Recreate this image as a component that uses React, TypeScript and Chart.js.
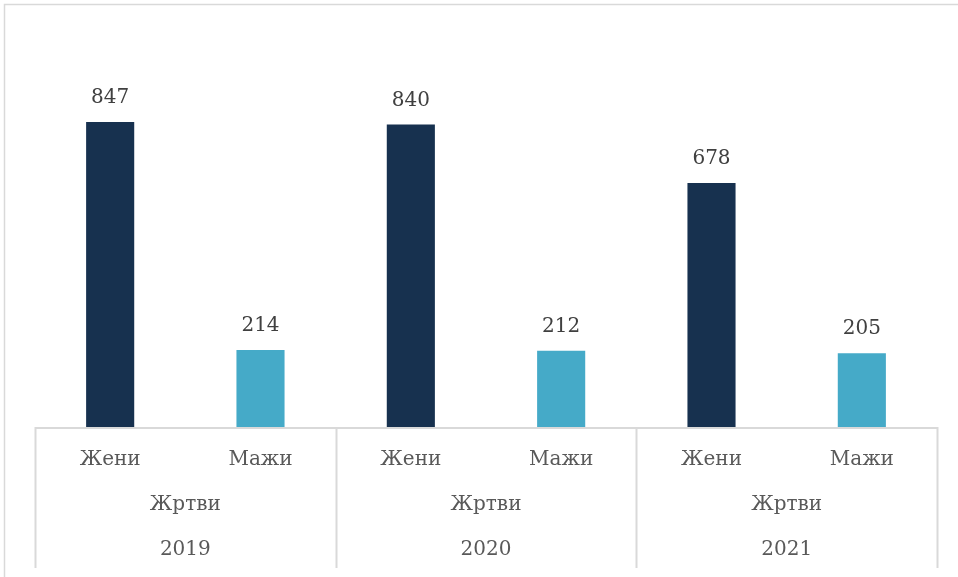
import React, { useEffect, useRef } from "react";
import { Chart, registerables } from "chart.js";

Chart.register(...registerables);

const categories = ["Жени", "Мажи", "Жени", "Мажи", "Жени", "Мажи"];
const groupLabel = "Жртви";
const years = ["2019", "2020", "2021"];
const values = [847, 214, 840, 212, 678, 205];
const barColors = ["#17314f", "#45aac8", "#17314f", "#45aac8", "#17314f", "#45aac8"];

const FONT = "'DejaVu Serif', serif";

const overlay = {
  id: "overlay",
  afterDraw(chart: any) {
    const { ctx, chartArea } = chart;
    const x = chart.scales.x;
    const meta = chart.getDatasetMeta(0);
    const left = chartArea.left;
    const right = chartArea.right;
    const bottom = chartArea.bottom;
    ctx.save();
    // outer frame
    ctx.strokeStyle = "#d9d9d9";
    ctx.lineWidth = 1.5;
    ctx.beginPath();
    ctx.moveTo(4.5, chart.height + 2);
    ctx.lineTo(4.5, 4.5);
    ctx.lineTo(chart.width + 2, 4.5);
    ctx.stroke();
    // axis line
    ctx.lineWidth = 2;
    ctx.beginPath();
    ctx.moveTo(left, bottom + 1);
    ctx.lineTo(right, bottom + 1);
    ctx.stroke();
    // group dividers
    const n = categories.length;
    const step = (right - left) / n;
    for (let g = 0; g <= years.length; g++) {
      const gx = Math.round(left + g * 2 * step) + 0.5;
      ctx.beginPath();
      ctx.moveTo(gx, bottom);
      ctx.lineTo(gx, bottom + 141);
      ctx.stroke();
    }
    // labels
    ctx.fillStyle = "#595959";
    ctx.font = `20px ${FONT}`;
    ctx.textAlign = "center";
    ctx.textBaseline = "middle";
    categories.forEach((c, i) => {
      ctx.fillText(c, x.getPixelForValue(i), bottom + 33);
    });
    years.forEach((y, g) => {
      const cx = (x.getPixelForValue(2 * g) + x.getPixelForValue(2 * g + 1)) / 2;
      ctx.fillText(groupLabel, cx, bottom + 78);
      ctx.fillText(y, cx, bottom + 123);
    });
    // data labels
    ctx.fillStyle = "#404040";
    ctx.font = `20px ${FONT}`;
    meta.data.forEach((bar: any, i: number) => {
      ctx.fillText(String(values[i]), bar.x, bar.y - 24);
    });
    ctx.restore();
  },
};

export default function App() {
  const ref = useRef<HTMLCanvasElement>(null);
  useEffect(() => {
    document.body.style.margin = "0";
    const chart = new Chart(ref.current!, {
      type: "bar",
      data: {
        labels: categories,
        datasets: [
          {
            data: values,
            backgroundColor: barColors,
            categoryPercentage: 1,
            barPercentage: 0.32,
          },
        ],
      },
      options: {
        animation: false,
        responsive: false,
        layout: { padding: { left: 35, right: 21, top: 67, bottom: 150 } },
        plugins: { legend: { display: false }, tooltip: { enabled: false } },
        scales: {
          x: { display: false },
          y: { display: false, min: 0, max: 1000 },
        },
      },
      plugins: [overlay],
    });
    return () => chart.destroy();
  }, []);
  return (
    <div style={{ width: 958, height: 577, background: "#fff" }}>
      <canvas ref={ref} width={958} height={577} style={{ display: "block" }} />
    </div>
  );
}
